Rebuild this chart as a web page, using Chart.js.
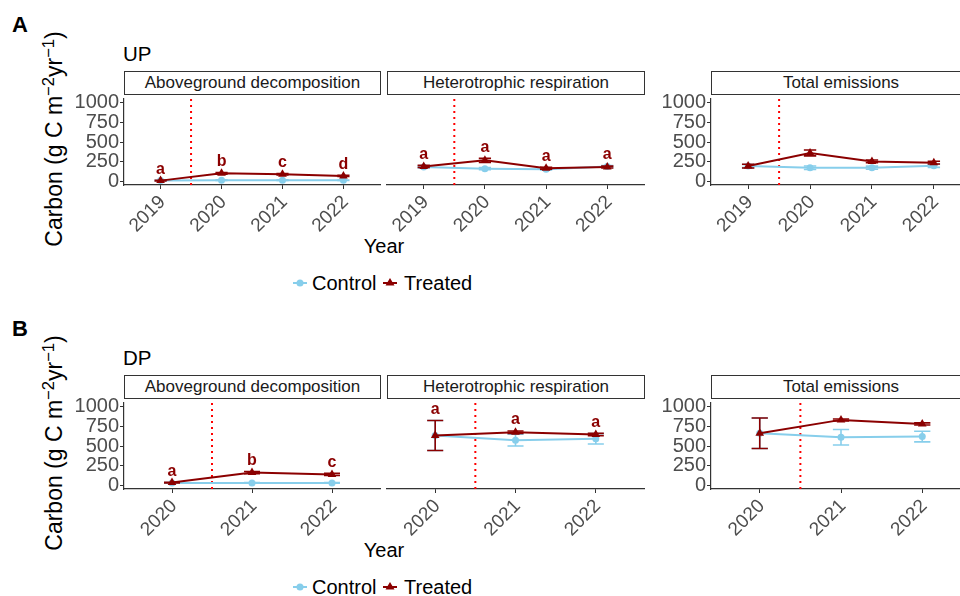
<!DOCTYPE html>
<html>
<head>
<meta charset="utf-8">
<script src="https://cdn.jsdelivr.net/npm/chart.js@4.4.1/dist/chart.umd.min.js"></script>
<style>
  html, body { margin: 0; padding: 0; background: #fff; }
  body { width: 960px; height: 596px; overflow: hidden; position: relative;
         font-family: "Liberation Sans", Arial, Helvetica, sans-serif; }
  .abs { position: absolute; white-space: nowrap; line-height: 1; color: #000; }
  canvas { position: absolute; }
  .strip { position: absolute; box-sizing: border-box; border: 1px solid #333;
           background: #fff; font-size: 17px; line-height: 21px; color: #1a1a1a;
           text-align: center; white-space: nowrap; overflow: hidden; }
  .sup { font-size: 0.72em; position: relative; top: -0.5em; }
</style>
</head>
<body>
<script>
// ---- data -------------------------------------------------------------
const yearsUP = ['2019', '2020', '2021', '2022'];
const yearsDP = ['2020', '2021', '2022'];
const yTicks = [0, 250, 500, 750, 1000];
const panelNames = ['Aboveground decomposition', 'Heterotrophic respiration', 'Total emissions'];

// UP site: means and standard errors (g C m-2 yr-1)
const upAgdControl    = [8, 12, 12, 11];
const upAgdControlSe  = [2, 3, 3, 3];
const upAgdTreated    = [6, 99, 87, 66];
const upAgdTreatedSe  = [4, 10, 8, 8];
const upAgdLetters    = ['a', 'b', 'c', 'd'];

const upHrControl     = [180, 159, 151, 187];
const upHrControlSe   = [12, 14, 10, 12];
const upHrTreated     = [187, 265, 163, 180];
const upHrTreatedSe   = [14, 25, 12, 12];
const upHrLetters     = ['a', 'a', 'a', 'a'];

const upTotControl    = [192, 171, 171, 196];
const upTotControlSe  = [20, 22, 20, 20];
const upTotTreated    = [192, 360, 252, 236];
const upTotTreatedSe  = [24, 38, 18, 18];

// DP site
const dpAgdControl    = [28, 27, 27];
const dpAgdControlSe  = [3, 4, 4];
const dpAgdTreated    = [32, 160, 136];
const dpAgdTreatedSe  = [5, 14, 14];
const dpAgdLetters    = ['a', 'b', 'c'];

const dpHrControl     = [635, 575, 592];
const dpHrControlSe   = [192, 75, 66];
const dpHrTreated     = [635, 676, 648];
const dpHrTreatedSe   = [192, 15, 15];
const dpHrLetters     = ['a', 'a', 'a'];

const dpTotControl    = [663, 612, 621];
const dpTotControlSe  = [195, 100, 68];
const dpTotTreated    = [663, 834, 782];
const dpTotTreatedSe  = [195, 12, 14];

// ---- styling ----------------------------------------------------------
const FONT = '"Liberation Sans", Arial, Helvetica, sans-serif';
const TREATED = '#8B0000';
const CONTROL = '#87CEEB';
const AXIS = '#333333';
const TICKTXT = '#4D4D4D';

const sections = [
  { label: 'A', site: 'UP', offset: 0, years: yearsUP, panels: [
    { control: upAgdControl, controlSe: upAgdControlSe, treated: upAgdTreated, treatedSe: upAgdTreatedSe, letters: upAgdLetters },
    { control: upHrControl,  controlSe: upHrControlSe,  treated: upHrTreated,  treatedSe: upHrTreatedSe,  letters: upHrLetters },
    { control: upTotControl, controlSe: upTotControlSe, treated: upTotTreated, treatedSe: upTotTreatedSe, letters: null }
  ]},
  { label: 'B', site: 'DP', offset: 304, years: yearsDP, panels: [
    { control: dpAgdControl, controlSe: dpAgdControlSe, treated: dpAgdTreated, treatedSe: dpAgdTreatedSe, letters: dpAgdLetters },
    { control: dpHrControl,  controlSe: dpHrControlSe,  treated: dpHrTreated,  treatedSe: dpHrTreatedSe,  letters: dpHrLetters },
    { control: dpTotControl, controlSe: dpTotControlSe, treated: dpTotTreated, treatedSe: dpTotTreatedSe, letters: null }
  ]}
];

// panel geometry (px)
const panelBoxes = [
  { left: 124, width: 256, yAxis: true },
  { left: 387, width: 257, yAxis: false },
  { left: 711, width: 260, yAxis: true }
];
const PLOT_TOP = 94, PLOT_H = 91, STRIP_H = 23;
const AX_W = 80, AX_H = 70, RIGHT_PAD = 20;

// ---- plugins ----------------------------------------------------------
// dotted vertical marker between the first and second year
const treatmentLine = {
  id: 'treatmentLine',
  beforeDatasetsDraw(chart) {
    const { ctx, chartArea, scales: { x } } = chart;
    const px = x.getPixelForValue(1.5);
    ctx.save();
    ctx.strokeStyle = '#FF0000';
    ctx.lineWidth = 2;
    ctx.setLineDash([2, 4]);
    ctx.beginPath();
    ctx.moveTo(px, chartArea.top);
    ctx.lineTo(px, chartArea.bottom);
    ctx.stroke();
    ctx.restore();
  }
};

// mean ± SE whiskers with caps 0.2 units wide
const errorBars = {
  id: 'errorBars',
  afterDatasetDraw(chart, args) {
    const ds = chart.data.datasets[args.index];
    if (!ds.se) return;
    const { ctx, scales: { x, y } } = chart;
    ctx.save();
    ctx.strokeStyle = ds.borderColor;
    ctx.lineWidth = 1.6;
    ds.data.forEach((p, i) => {
      const px = x.getPixelForValue(p.x);
      const hw = x.getPixelForValue(p.x + 0.1) - px;
      const yt = y.getPixelForValue(p.y + ds.se[i]);
      const yb = y.getPixelForValue(p.y - ds.se[i]);
      ctx.beginPath();
      ctx.moveTo(px, yt); ctx.lineTo(px, yb);
      ctx.moveTo(px - hw, yt); ctx.lineTo(px + hw, yt);
      ctx.moveTo(px - hw, yb); ctx.lineTo(px + hw, yb);
      ctx.stroke();
    });
    ctx.restore();
  }
};

// significance letters above the treated series
const letterLabels = {
  id: 'letterLabels',
  afterDatasetsDraw(chart) {
    const { ctx, scales: { x, y } } = chart;
    chart.data.datasets.forEach(ds => {
      if (!ds.letters) return;
      ctx.save();
      ctx.fillStyle = ds.borderColor;
      ctx.font = 'bold 16px ' + FONT;
      ctx.textAlign = 'center';
      ctx.textBaseline = 'middle';
      ds.data.forEach((p, i) => {
        const px = x.getPixelForValue(p.x);
        const py = y.getPixelForValue(p.y + ds.se[i]) - 11;
        ctx.fillText(ds.letters[i], px, py);
      });
      ctx.restore();
    });
  }
};

// ---- helpers ----------------------------------------------------------
function addText(html, left, baseline, size, extra) {
  const d = document.createElement('div');
  d.className = 'abs';
  d.innerHTML = html;
  d.style.fontSize = size + 'px';
  d.style.left = left + 'px';
  d.style.top = (baseline - 0.8465 * size) + 'px';
  if (extra) Object.assign(d.style, extra);
  document.body.appendChild(d);
  return d;
}

function makePanel(sec, idx) {
  const box = panelBoxes[idx];
  const p = sec.panels[idx];
  const top = PLOT_TOP + sec.offset;

  const strip = document.createElement('div');
  strip.className = 'strip';
  strip.textContent = panelNames[idx];
  Object.assign(strip.style, {
    left: box.left + 'px', top: (top - STRIP_H) + 'px',
    width: (box.width + (idx === 2 ? 0 : 1)) + 'px', height: (STRIP_H + 1) + 'px'
  });
  document.body.appendChild(strip);

  const cv = document.createElement('canvas');
  cv.width = AX_W + box.width + RIGHT_PAD;
  cv.height = PLOT_H + AX_H;
  cv.style.left = (box.left - AX_W) + 'px';
  cv.style.top = top + 'px';
  document.body.appendChild(cv);

  const years = sec.years;
  const pts = arr => arr.map((v, i) => ({ x: i + 1, y: v }));

  new Chart(cv, {
    type: 'line',
    data: {
      datasets: [
        { label: 'Treated', data: pts(p.treated), se: p.treatedSe, letters: p.letters,
          borderColor: TREATED, backgroundColor: TREATED, pointStyle: 'triangle',
          pointRadius: 5, pointBorderWidth: 0, borderWidth: 2, tension: 0 },
        { label: 'Control', data: pts(p.control), se: p.controlSe,
          borderColor: CONTROL, backgroundColor: CONTROL, pointStyle: 'circle',
          pointRadius: 3.5, pointBorderWidth: 0, borderWidth: 2, tension: 0 }
      ]
    },
    options: {
      responsive: false,
      animation: false,
      devicePixelRatio: 1,
      events: [],
      layout: { padding: { left: box.yAxis ? 0 : AX_W, right: RIGHT_PAD, top: 0, bottom: 0 } },
      plugins: { legend: { display: false }, tooltip: { enabled: false } },
      scales: {
        x: {
          type: 'linear',
          min: 0.4, max: years.length + 0.6,
          afterBuildTicks: s => { s.ticks = years.map((_, i) => ({ value: i + 1 })); },
          afterFit: s => { s.height = AX_H; s.paddingLeft = 0; s.paddingRight = 0; },
          ticks: {
            autoSkip: false, minRotation: 45, maxRotation: 45,
            callback: v => years[Math.round(v) - 1],
            font: { family: FONT, size: 19 }, color: TICKTXT, padding: 2, labelOffset: 2
          },
          grid: { display: true, drawOnChartArea: false, drawTicks: true,
                  tickLength: 4, tickColor: AXIS, tickWidth: 1 },
          border: { display: true, color: AXIS, width: 1.2 }
        },
        y: {
          type: 'linear',
          display: box.yAxis,
          min: -50, max: 1050,
          afterBuildTicks: s => { s.ticks = yTicks.map(v => ({ value: v })); },
          afterFit: s => { s.width = box.yAxis ? AX_W : 0; s.paddingTop = 0; s.paddingBottom = 0; },
          ticks: { autoSkip: false, callback: v => String(v),
                   font: { family: FONT, size: 20 }, color: TICKTXT, padding: 1 },
          grid: { display: true, drawOnChartArea: false, drawTicks: true,
                  tickLength: 4, tickColor: AXIS, tickWidth: 1 },
          border: { display: true, color: AXIS, width: 1.2 }
        }
      }
    },
    plugins: [treatmentLine, errorBars, letterLabels]
  });
}

function makeLegend(offset) {
  const cy = 283.3 + offset;
  const wrap = document.createElement('div');
  wrap.innerHTML =
    '<svg style="position:absolute;left:290px;top:' + (cy - 10) + 'px" width="20" height="20">' +
      '<line x1="3" y1="10" x2="17" y2="10" stroke="' + CONTROL + '" stroke-width="2"/>' +
      '<circle cx="10" cy="10" r="3.5" fill="' + CONTROL + '"/></svg>' +
    '<svg style="position:absolute;left:380px;top:' + (cy - 10) + 'px" width="20" height="20">' +
      '<line x1="3" y1="10" x2="17" y2="10" stroke="' + TREATED + '" stroke-width="2"/>' +
      '<polygon points="10,5 14.5,12.5 5.5,12.5" fill="' + TREATED + '"/></svg>';
  document.body.appendChild(wrap);
  addText('Control', 312, 290 + offset, 20);
  addText('Treated', 404, 290 + offset, 20);
}

// ---- build ------------------------------------------------------------
sections.forEach(sec => {
  const o = sec.offset;
  addText(sec.label, 12, 32.7 + o, 22, { fontWeight: 'bold' });
  addText(sec.site, 123, 61 + o, 20.5);

  const yt = addText('Carbon (g C m<span class="sup">\u22122</span>yr<span class="sup">\u22121</span>)',
                     0, 0, 23);
  Object.assign(yt.style, { left: '54px', top: (139 + o) + 'px',
                            transform: 'translate(-50%, -50%) rotate(-90deg)' });

  const xt = addText('Year', 384, 253 + o, 20);
  xt.style.transform = 'translateX(-50%)';

  sec.panels.forEach((_, i) => makePanel(sec, i));
  makeLegend(o);
});
</script>
</body>
</html>
